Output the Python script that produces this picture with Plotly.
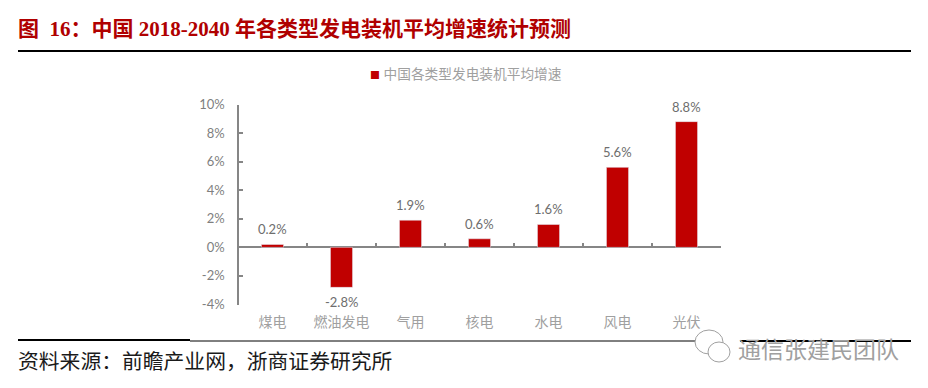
import plotly.graph_objects as go

categories = ["煤电", "燃油发电", "气用", "核电", "水电", "风电", "光伏"]
values = [0.2, -2.8, 1.9, 0.6, 1.6, 5.6, 8.8]
y_ticks = [-4, -2, 0, 2, 4, 6, 8, 10]
y_tick_labels = ["-4%", "-2%", "0%", "2%", "4%", "6%", "8%", "10%"]
series_name = "中国各类型发电装机平均增速"
title = "图\u00a0\u00a016：中国 2018-2040 年各类型发电装机平均增速统计预测"
source = "资料来源：前瞻产业网，浙商证券研究所"
watermark = "通信张建民团队"

W, H = 928, 388
RED = "#C00000"
GREY = "#7F7F7F"
AXIS = "#868686"
CJK = "Lato, 'Noto Sans CJK SC', sans-serif"

top, bottom = 104.5, 304.5
y_min, y_max = -4, 10
zero_pos = (H - (bottom - (0 - y_min) / (y_max - y_min) * (bottom - top))) / H


def px(x):
    return x / W


def py(y):
    return 1 - y / H


fig = go.Figure()
fig.add_trace(go.Bar(
    x=categories, y=values, name=series_name, marker_color=RED, width=0.32,
    xaxis="x", yaxis="y", showlegend=False,
))
fig.add_trace(go.Bar(
    x=categories, y=[None] * len(categories), xaxis="x2", yaxis="y",
    showlegend=False, hoverinfo="skip",
))

shapes = []
for x0, x1, yy, w in [(18, 911, 51, 2), (18, 190, 340, 2), (190, 700, 341, 1), (740, 911, 341, 2)]:
    shapes.append(dict(type="line", xref="paper", yref="paper", x0=px(x0), x1=px(x1),
                       y0=py(yy), y1=py(yy), line=dict(color="black", width=w)))
for cx, cy, rx, ry in [(709, 342, 14, 12), (719, 352, 11, 10)]:
    shapes.append(dict(type="circle", xref="paper", yref="paper",
                       x0=px(cx - rx), x1=px(cx + rx), y0=py(cy - ry), y1=py(cy + ry),
                       fillcolor="white", line=dict(color="#A0A0A0", width=1)))

annotations = [
    dict(text=title, x=px(16), y=py(29), xref="paper", yref="paper", xanchor="left", yanchor="middle",
         showarrow=False, font=dict(family="'Liberation Serif', 'Noto Sans CJK SC', serif", size=21,
                                    color="#B00000", weight="bold")),
    dict(text=source, x=px(16), y=py(360), xref="paper", yref="paper", xanchor="left", yanchor="middle",
         showarrow=False, font=dict(family="'Noto Sans CJK SC', sans-serif", size=20.8, color="#1A1A1A")),
    dict(text=watermark, x=px(736), y=py(348), xref="paper", yref="paper", xanchor="left", yanchor="middle",
         showarrow=False, font=dict(family="'Noto Sans CJK SC', sans-serif", size=23, color="#A0A0A0")),
    dict(text=f"<span style='color:{RED};font-size:10px'>■</span> {series_name}", x=px(368), y=py(73),
         xref="paper", yref="paper", xanchor="left", yanchor="middle", showarrow=False,
         font=dict(family=CJK, size=13.7, color="#A0A0A0")),
]
for cat, val in zip(categories, values):
    annotations.append(dict(
        x=cat, y=val, xref="x", yref="y", text=f"{val:.1f}%", showarrow=False,
        yanchor="middle", yshift=15 if val >= 0 else -15,
        font=dict(family=CJK, size=13, color="#6E6E6E"),
    ))

fig.update_layout(
    width=W, height=H, margin=dict(l=0, r=0, t=0, b=0, autoexpand=False),
    paper_bgcolor="white", plot_bgcolor="white", barmode="overlay",
    font=dict(family=CJK, size=12.5, color=GREY),
    showlegend=False,
    xaxis=dict(domain=[px(238), px(721)], anchor="free", position=zero_pos, type="category",
               categoryorder="array", categoryarray=categories, tickson="boundaries",
               showgrid=False, showline=True, linecolor=AXIS, linewidth=1.5, ticks="inside",
               ticklen=4, tickcolor=AXIS, tickwidth=1.5, showticklabels=False, zeroline=False,
               layer="below traces"),
    xaxis2=dict(domain=[px(238), px(721)], anchor="free", position=py(312), overlaying="x",
                type="category", categoryorder="array", categoryarray=categories,
                showgrid=False, showline=False, ticks="", side="bottom",
                tickfont=dict(family=CJK, size=14, color="#A0A0A0")),
    yaxis=dict(domain=[py(bottom), py(top)], range=[y_min, y_max], tickmode="array", tickvals=y_ticks,
               ticktext=y_tick_labels, ticklabelstandoff=10,
               anchor="free", position=px(238), showgrid=False, zeroline=False, showline=True,
               linecolor=AXIS, linewidth=1.5, ticks="inside", ticklen=4, tickcolor=AXIS, tickwidth=1.5,
               tickfont=dict(family=CJK, size=13, color=GREY)),
    shapes=shapes, annotations=annotations,
)
fig.write_html("out.html", post_script="document.body.style.margin='0';",
               config=dict(displayModeBar=False))
